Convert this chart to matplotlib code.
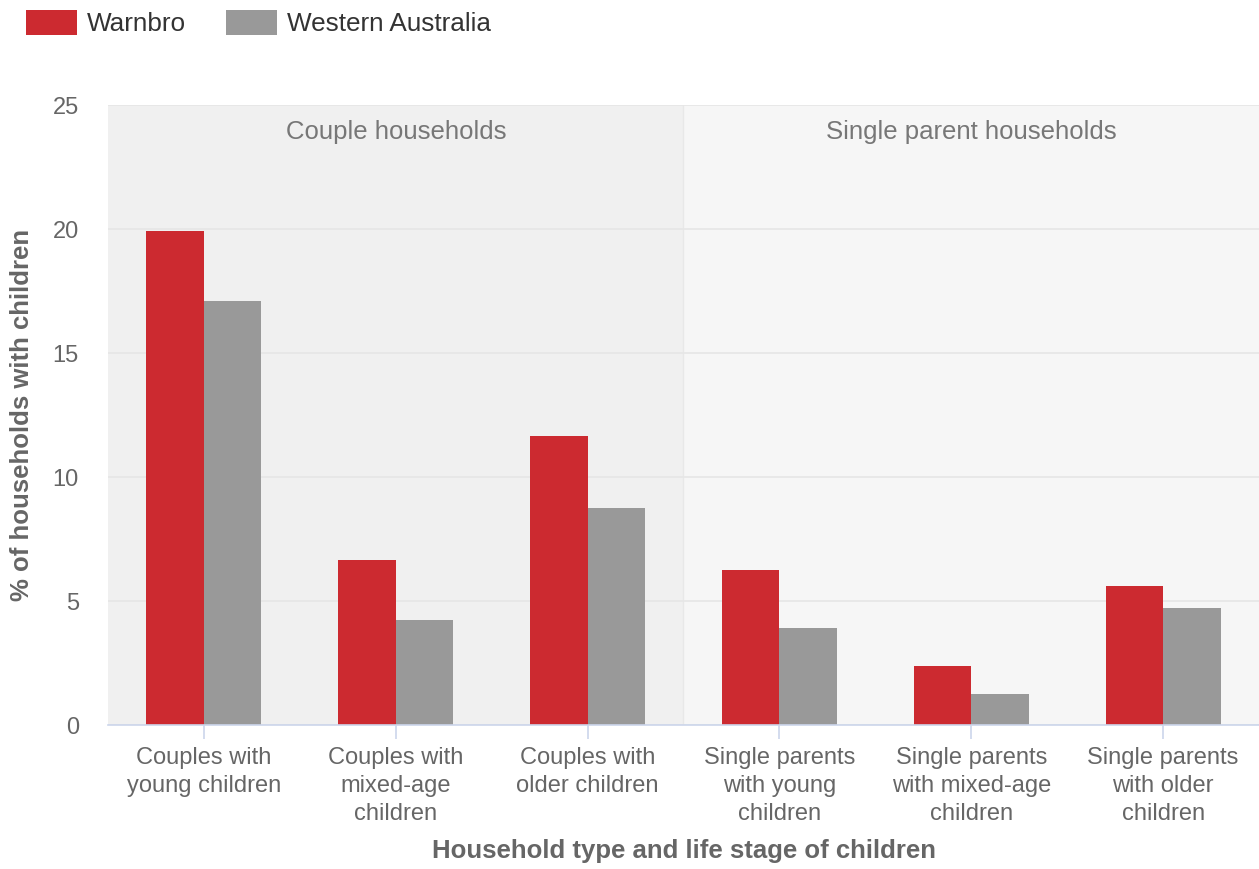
import matplotlib.pyplot as plt
import matplotlib.patches as mpatches
import numpy as np

plt.rcParams["font.family"] = ["Liberation Sans", "DejaVu Sans"]

categories = [
    "Couples with\nyoung children",
    "Couples with\nmixed-age\nchildren",
    "Couples with\nolder children",
    "Single parents\nwith young\nchildren",
    "Single parents\nwith mixed-age\nchildren",
    "Single parents\nwith older\nchildren",
]
warnbro = [19.9, 6.65, 11.65, 6.25, 2.38, 5.6]
western_australia = [17.1, 4.23, 8.75, 3.91, 1.25, 4.72]
bands = ["Couple households", "Single parent households"]
y_ticks = [0, 5, 10, 15, 20, 25]

red = "#cc2a30"
grey = "#999999"
text_grey = "#666666"
grid_color = "#e6e6e6"
axis_line = "#ccd6eb"

fig = plt.figure(figsize=(12.59, 8.70), dpi=100)
ax = fig.add_axes([108 / 1259, 144 / 870, 1151 / 1259, 620 / 870])

x = np.arange(len(categories))
w = 0.30

# plot bands
ax.axvspan(-0.5, 2.5, color="#f0f0f0", zorder=0, linewidth=0)
ax.axvspan(2.5, 5.5, color="#f6f6f6", zorder=0, linewidth=0)
ax.axvline(2.5, color="#e8e8e8", linewidth=1, zorder=0.5)
ax.text(1, 23.95, bands[0], ha="center", va="center", fontsize=18.5, color="#777777")
ax.text(4, 23.95, bands[1], ha="center", va="center", fontsize=18.5, color="#777777")

ax.set_axisbelow(True)
ax.grid(axis="y", color=grid_color, linewidth=1.2)
ax.grid(axis="x", visible=False)

ax.bar(x - w / 2, warnbro, width=w, color=red, zorder=3, linewidth=0)
ax.bar(x + w / 2, western_australia, width=w, color=grey, zorder=3, linewidth=0)

ax.set_xlim(-0.5, 5.5)
ax.set_ylim(0, 25)
ax.set_yticks(y_ticks)
ax.set_xticks(x)
ax.set_xticklabels(categories, fontsize=17, color=text_grey, linespacing=1.37)
ax.tick_params(axis="x", length=10, width=1.2, color=axis_line, pad=5)
ax.tick_params(axis="y", length=0, labelsize=17, labelcolor=text_grey, pad=21)
for lab in ax.get_yticklabels():
    lab.set_horizontalalignment("right")

for s in ["left", "right", "top"]:
    ax.spines[s].set_visible(False)
ax.spines["bottom"].set_color(axis_line)
ax.spines["bottom"].set_linewidth(1.2)
ax.spines["bottom"].set_zorder(4)

ax.set_xlabel("Household type and life stage of children", fontsize=18.5,
              fontweight="bold", color=text_grey, labelpad=10)
fig.text(22 / 1259, 1 - 415 / 870, "% of households with children", rotation=90,
         ha="center", va="center", fontsize=18.5, fontweight="bold", color=text_grey)

# legend at top-left
fig.add_artist(mpatches.Rectangle((26 / 1259, 1 - 36 / 870), 51 / 1259, 25 / 870,
                                  transform=fig.transFigure, facecolor=red, edgecolor="none"))
fig.text(87 / 1259, 1 - 24 / 870, "Warnbro", ha="left", va="center", fontsize=18.8, color="#333333")
fig.add_artist(mpatches.Rectangle((226 / 1259, 1 - 36 / 870), 51 / 1259, 25 / 870,
                                  transform=fig.transFigure, facecolor=grey, edgecolor="none"))
fig.text(287 / 1259, 1 - 24 / 870, "Western Australia", ha="left", va="center", fontsize=18.8, color="#333333")

fig.savefig("out.png", dpi=100)
